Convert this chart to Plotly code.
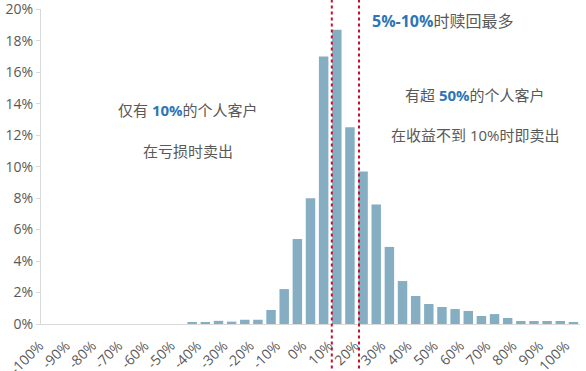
import plotly.graph_objects as go

categories = ["-100%", "-95%", "-90%", "-85%", "-80%", "-75%", "-70%", "-65%", "-60%", "-55%",
              "-50%", "-45%", "-40%", "-35%", "-30%", "-25%", "-20%", "-15%", "-10%", "-5%",
              "0%", "5%", "10%", "15%", "20%", "25%", "30%", "35%", "40%", "45%",
              "50%", "55%", "60%", "65%", "70%", "75%", "80%", "85%", "90%", "95%", "100%"]
values = [0, 0, 0, 0, 0, 0, 0, 0, 0, 0,
          0, 0.08, 0.08, 0.2, 0.15, 0.27, 0.27, 0.89, 2.22, 5.4,
          8.0, 17.0, 18.7, 12.5, 9.7, 7.6, 4.9, 2.73, 1.78, 1.27,
          1.08, 0.95, 0.83, 0.51, 0.63, 0.38, 0.19, 0.19, 0.19, 0.19, 0.13]
x_tick_labels = categories[::2]
y_tick_vals = [0, 2, 4, 6, 8, 10, 12, 14, 16, 18, 20]
y_tick_text = [f"{v}%" for v in y_tick_vals]
marker_lines = [21.62, 23.69]  # category-index positions of the dotted red lines

GRAY = "#595959"
BLUE = "#2E75B6"
FONT = "Open Sans, Noto Sans CJK SC, sans-serif"

fig = go.Figure(go.Bar(x=categories, y=values, marker_color="#86AEC3",
                       marker_line_width=0))

for xv in marker_lines:
    fig.add_shape(type="line", xref="x", yref="paper", x0=xv, x1=xv, y0=-0.16, y1=1.04,
                  line=dict(color="#C8102E", width=2, dash="dot"))

def blue(t):
    return f"<b><span style='color:{BLUE}'>{t}</span></b>"

ann = [
    (188, 110, f"仅有 {blue('10%')}的个人客户", 15),
    (188, 151, "在亏损时卖出", 15),
    (442, 21, f"{blue('5%-10%')}时赎回最多", 16),
    (475, 95, f"有超 {blue('50%')}的个人客户", 15),
    (475, 135, "在收益不到 10%时即卖出", 15),
]
L, R, T, B = 41, 6, 9, 47
W, H = 586, 371
pw, ph = W - L - R, H - T - B
for px, py, txt, sz in ann:
    fig.add_annotation(x=(px - L) / pw, y=1 - (py - T) / ph, xref="paper", yref="paper",
                       text=txt, showarrow=False, xanchor="center", yanchor="middle",
                       font=dict(size=sz, color=GRAY, family=FONT))

fig.update_layout(
    width=W, height=H,
    margin=dict(l=L, r=R, t=T, b=B),
    plot_bgcolor="white", paper_bgcolor="white",
    bargap=0.28, showlegend=False,
    font=dict(family=FONT, color=GRAY),
    xaxis=dict(type="category", categoryorder="array", categoryarray=categories,
               tickvals=x_tick_labels, ticktext=x_tick_labels, tickangle=-45,
               tickfont=dict(size=14, color=GRAY), showline=True, linecolor="#D9D9D9",
               linewidth=1, ticks="", showgrid=False, range=[-0.5, 40.5],
               automargin=False, ticklabelshift=-8, ticklabelstandoff=7,
               ticklabeloverflow="allow"),
    yaxis=dict(range=[0, 20.02], tickvals=y_tick_vals, ticktext=y_tick_text,
               tickfont=dict(size=14, color=GRAY), showline=True, linecolor="#D9D9D9",
               linewidth=1, ticks="outside", ticklen=4, tickcolor="#D9D9D9",
               showgrid=False, zeroline=False, automargin=False,
               ticklabeloverflow="allow"),
)

fig.write_html("out.html", config={"displayModeBar": False},
               post_script="document.body.style.margin='0';")
